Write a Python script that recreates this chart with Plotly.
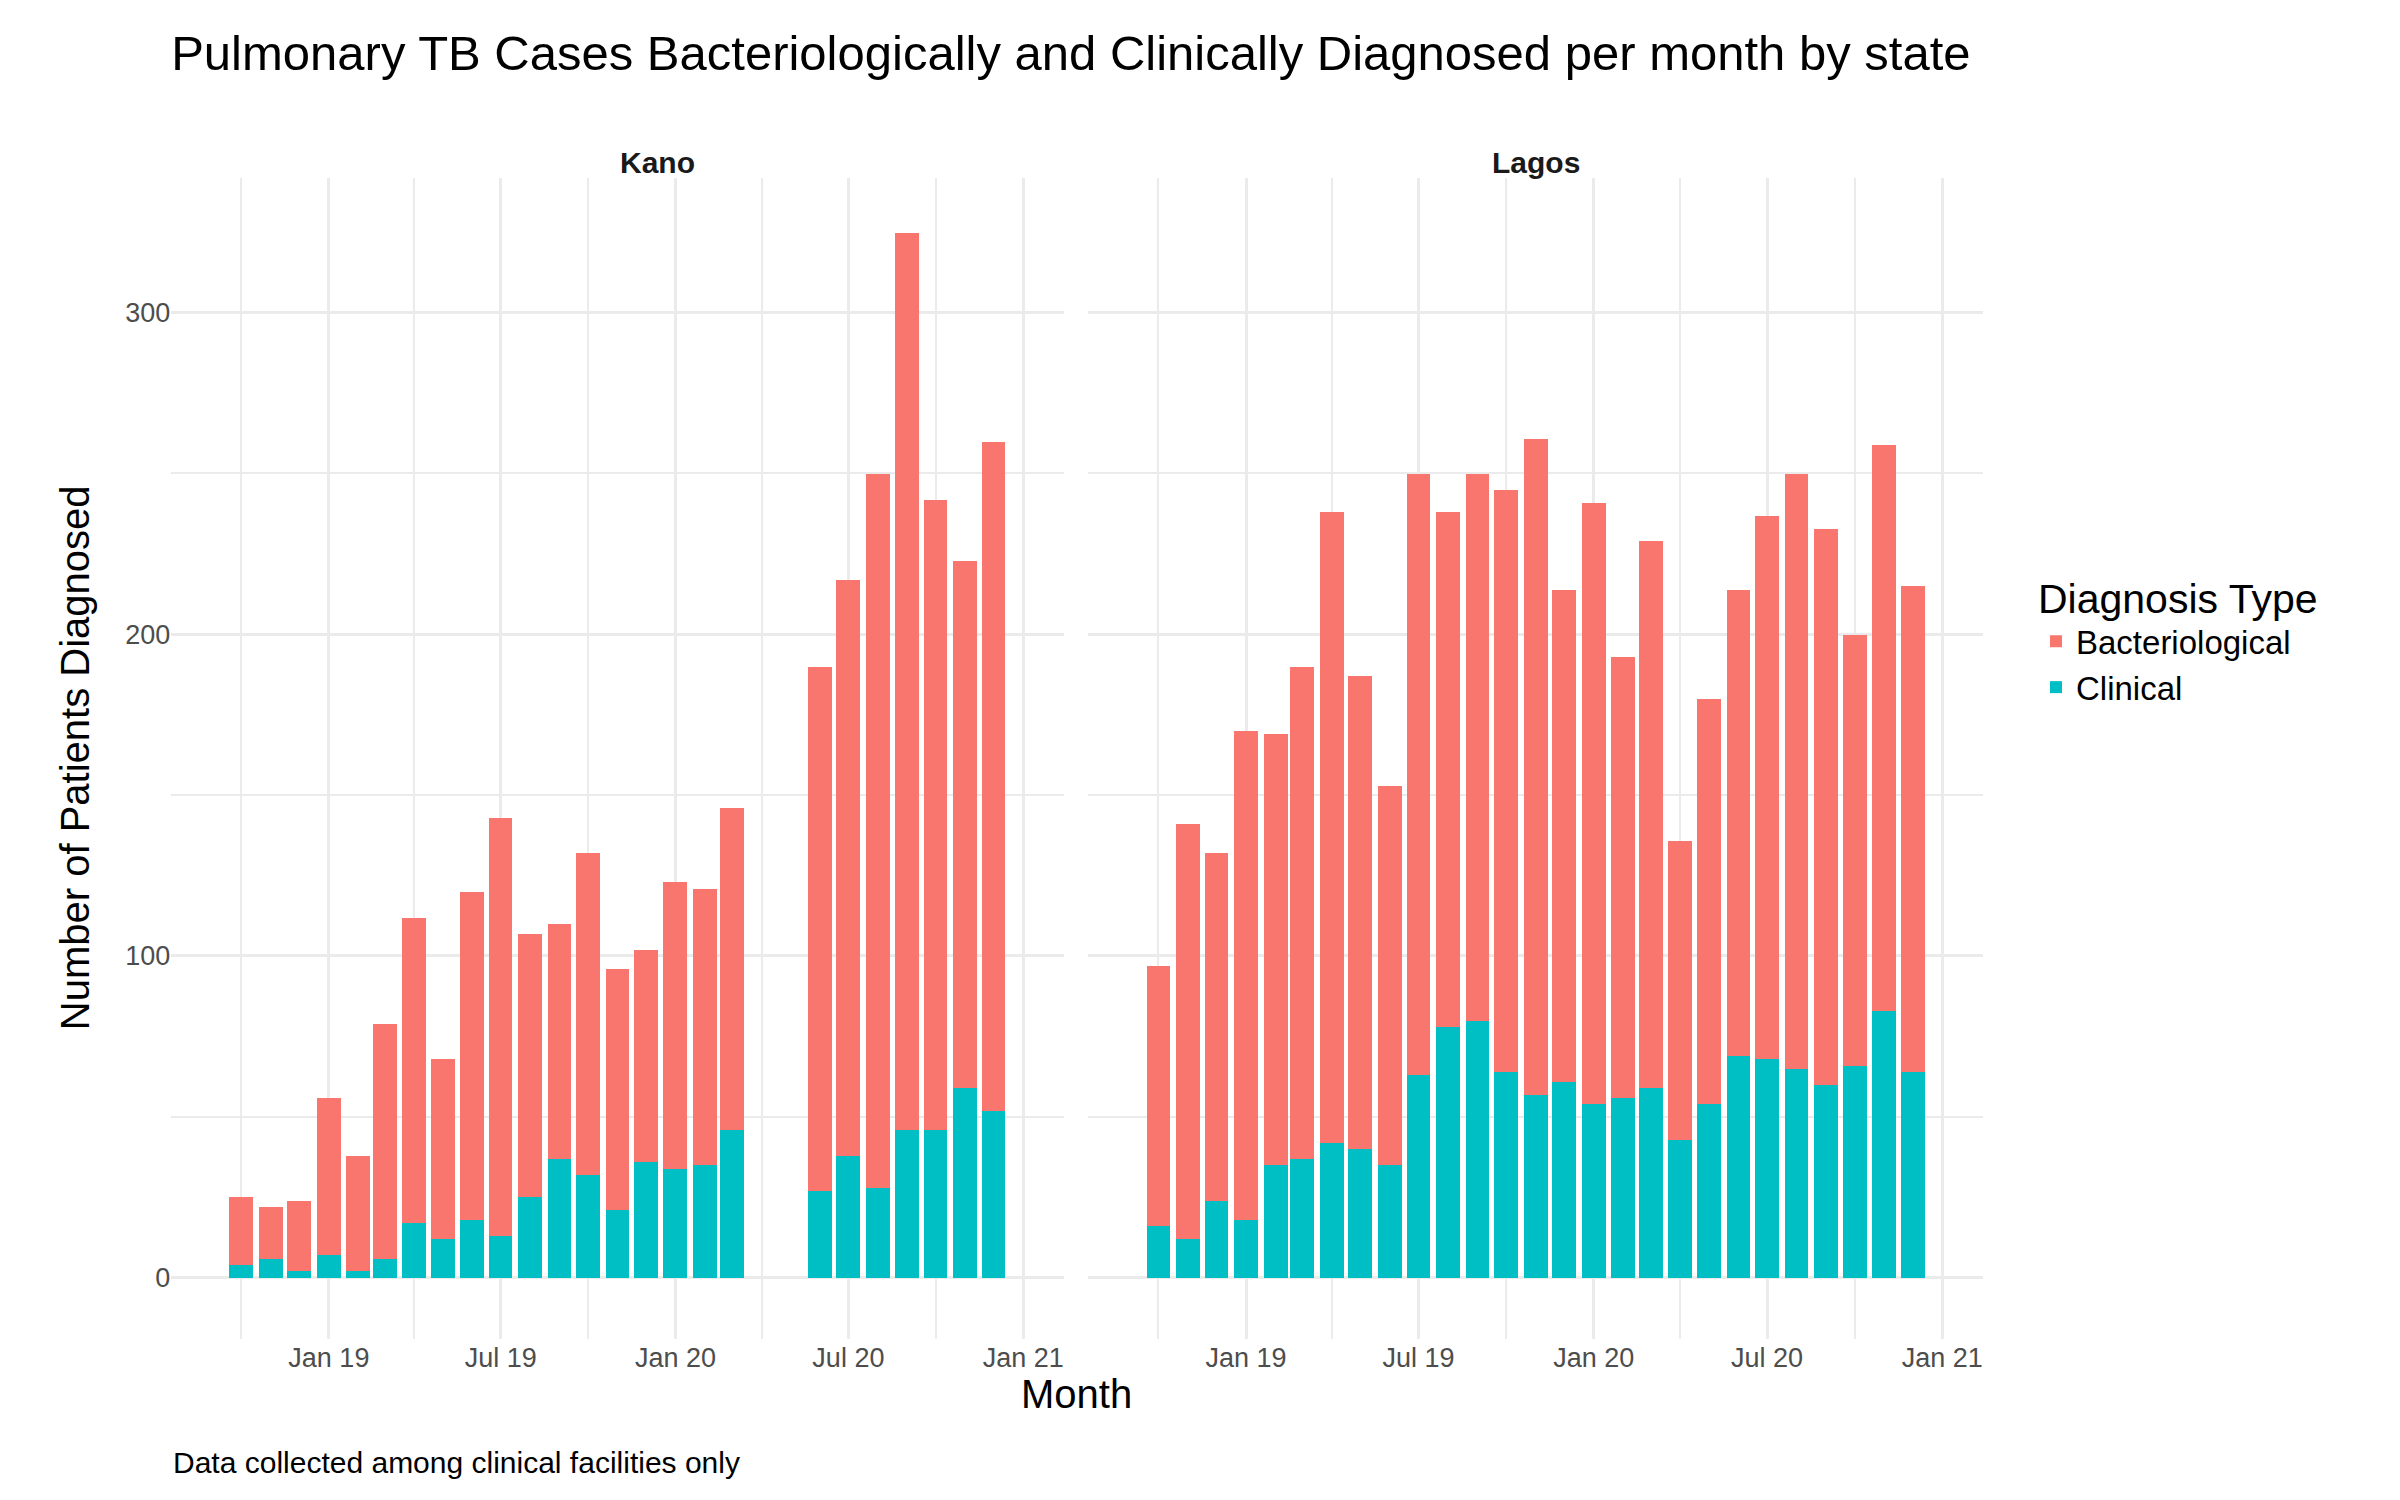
import plotly.graph_objects as go
from plotly.subplots import make_subplots

kano_months = ["2018-10-01", "2018-11-01", "2018-12-01", "2019-01-01", "2019-02-01", "2019-03-01",
               "2019-04-01", "2019-05-01", "2019-06-01", "2019-07-01", "2019-08-01", "2019-09-01",
               "2019-10-01", "2019-11-01", "2019-12-01", "2020-01-01", "2020-02-01", "2020-03-01",
               "2020-06-01", "2020-07-01", "2020-08-01", "2020-09-01", "2020-10-01", "2020-11-01",
               "2020-12-01"]
kano_total = [25, 22, 24, 56, 38, 79, 112, 68, 120, 143, 107, 110, 132, 96, 102, 123, 121, 146,
              190, 217, 250, 325, 242, 223, 260]
kano_clin = [4, 6, 2, 7, 2, 6, 17, 12, 18, 13, 25, 37, 32, 21, 36, 34, 35, 46,
             27, 38, 28, 46, 46, 59, 52]

lagos_months = ["2018-10-01", "2018-11-01", "2018-12-01", "2019-01-01", "2019-02-01", "2019-03-01",
                "2019-04-01", "2019-05-01", "2019-06-01", "2019-07-01", "2019-08-01", "2019-09-01",
                "2019-10-01", "2019-11-01", "2019-12-01", "2020-01-01", "2020-02-01", "2020-03-01",
                "2020-04-01", "2020-05-01", "2020-06-01", "2020-07-01", "2020-08-01", "2020-09-01",
                "2020-10-01", "2020-11-01", "2020-12-01"]
lagos_total = [97, 141, 132, 170, 169, 190, 238, 187, 153, 250, 238, 250, 245, 261, 214, 241, 193,
               229, 136, 180, 214, 237, 250, 233, 200, 259, 215]
lagos_clin = [16, 12, 24, 18, 35, 37, 42, 40, 35, 63, 78, 80, 64, 57, 61, 54, 56, 59, 43, 54, 69,
              68, 65, 60, 66, 83, 64]

tick_vals = ["2019-01-01", "2019-07-01", "2020-01-01", "2020-07-01", "2021-01-01"]
tick_text = ["Jan 19", "Jul 19", "Jan 20", "Jul 20", "Jan 21"]

BACT = "#F8766D"
CLIN = "#00BFC4"
bar_w = 25 * 24 * 3600 * 1000

fig = make_subplots(rows=1, cols=2, shared_yaxes=True, horizontal_spacing=0.01)

for col, (months, total, clin) in enumerate(
        [(kano_months, kano_total, kano_clin), (lagos_months, lagos_total, lagos_clin)], start=1):
    bact = [t - c for t, c in zip(total, clin)]
    fig.add_trace(go.Bar(x=months, y=clin, name="Clinical", marker_color=CLIN, width=bar_w,
                         marker_line_width=0, legendgroup="c", showlegend=(col == 1),
                         legendrank=2), row=1, col=col)
    fig.add_trace(go.Bar(x=months, y=bact, name="Bacteriological", marker_color=BACT, width=bar_w,
                         marker_line_width=0, legendgroup="b", showlegend=(col == 1),
                         legendrank=1), row=1, col=col)

grid = "#EBEBEB"
for ax, dom in [("xaxis", [0.068, 0.44]), ("xaxis2", [0.45, 0.823])]:
    fig.layout[ax].update(domain=dom, type="date", range=["2018-07-19", "2021-02-13"],
                          tickvals=tick_vals, ticktext=tick_text, showgrid=True, gridcolor=grid,
                          gridwidth=3, zeroline=False, ticks="",
                          tickfont=dict(size=27, color="#4D4D4D"),
                          minor=dict(tickvals=["2018-10-01", "2019-04-01", "2019-10-01",
                                               "2020-04-01", "2020-10-01"],
                                     showgrid=True, gridcolor=grid, gridwidth=1.5))
for ax in ["yaxis", "yaxis2"]:
    fig.layout[ax].update(domain=[0.113, 0.887], range=[-19, 342], tickvals=[0, 100, 200, 300],
                          showgrid=True, gridcolor=grid, gridwidth=3, zeroline=False,
                          tickfont=dict(size=27, color="#4D4D4D"),
                          minor=dict(tickvals=[50, 150, 250], showgrid=True, gridcolor=grid,
                                     gridwidth=1.5))
fig.layout.yaxis2.showticklabels = False

fig.update_layout(
    width=2400, height=1500, barmode="stack", plot_bgcolor="white", paper_bgcolor="white",
    font=dict(family="Liberation Sans, Arial", color="black"),
    margin=dict(l=0, r=0, t=0, b=0), bargap=0,
    title=dict(text="Pulmonary TB Cases Bacteriologically and Clinically Diagnosed per month by state",
               x=0.068, xanchor="left", y=0.97, yanchor="middle", font=dict(size=49)),
    legend=dict(title=dict(text="Diagnosis Type", font=dict(size=41)), x=0.845, y=0.58,
                yanchor="middle", font=dict(size=33), traceorder="normal",
                itemsizing="constant"),
    annotations=[
        dict(text="<b>Kano</b>", x=0.254, y=0.909, xref="paper", yref="paper",
             showarrow=False, font=dict(size=30, color="#1A1A1A")),
        dict(text="<b>Lagos</b>", x=0.6365, y=0.909, xref="paper", yref="paper",
             showarrow=False, font=dict(size=30, color="#1A1A1A")),
        dict(text="Month", x=0.445, y=0.06, xref="paper", yref="paper",
             showarrow=False, font=dict(size=40)),
        dict(text="Number of Patients Diagnosed", x=0.018, y=0.5, xref="paper", yref="paper",
             textangle=-90, showarrow=False, font=dict(size=40)),
        dict(text="Data collected among clinical facilities only", x=0.068, y=0.018,
             xref="paper", yref="paper", xanchor="left", showarrow=False,
             font=dict(size=30)),
    ],
)

fig.write_html("out.html")
